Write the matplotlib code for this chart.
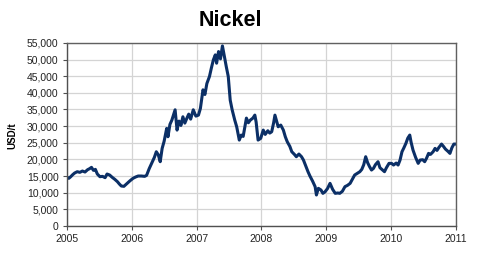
import matplotlib
matplotlib.use('Agg')
import matplotlib.pyplot as plt
from matplotlib.ticker import FuncFormatter

# decimal year and nickel price (USD/t)
years = [
    2005.00, 2005.03, 2005.06, 2005.09, 2005.12, 2005.16, 2005.20, 2005.24, 2005.28,
    2005.32, 2005.35, 2005.38, 2005.41, 2005.44, 2005.47, 2005.51, 2005.55, 2005.59,
    2005.62, 2005.66, 2005.70, 2005.74, 2005.78, 2005.81, 2005.84, 2005.88, 2005.92,
    2005.97, 2006.02, 2006.06, 2006.10, 2006.15, 2006.20, 2006.23, 2006.27, 2006.31,
    2006.35, 2006.38, 2006.41, 2006.44, 2006.47, 2006.50, 2006.54, 2006.56, 2006.59,
    2006.62, 2006.67, 2006.70, 2006.73, 2006.76, 2006.79, 2006.82, 2006.85, 2006.88,
    2006.91, 2006.95, 2006.99, 2007.03, 2007.06, 2007.10, 2007.13, 2007.16, 2007.20,
    2007.23, 2007.26, 2007.29, 2007.31, 2007.34, 2007.37, 2007.40, 2007.43, 2007.46,
    2007.49, 2007.52, 2007.55, 2007.59, 2007.62, 2007.66, 2007.69, 2007.72, 2007.75,
    2007.77, 2007.80, 2007.83, 2007.87, 2007.90, 2007.92, 2007.95, 2007.99, 2008.03,
    2008.06, 2008.10, 2008.13, 2008.16, 2008.19, 2008.21, 2008.24, 2008.26, 2008.30,
    2008.34, 2008.37, 2008.40, 2008.44, 2008.47, 2008.51, 2008.54, 2008.58, 2008.62,
    2008.65, 2008.68, 2008.72, 2008.75, 2008.79, 2008.83, 2008.85, 2008.88, 2008.92,
    2008.95, 2008.98, 2009.02, 2009.06, 2009.10, 2009.14, 2009.18, 2009.21, 2009.25,
    2009.29, 2009.33, 2009.37, 2009.40, 2009.44, 2009.48, 2009.52, 2009.55, 2009.58,
    2009.61, 2009.64, 2009.67, 2009.70, 2009.73, 2009.76, 2009.80, 2009.83, 2009.86,
    2009.90, 2009.93, 2009.97, 2010.01, 2010.04, 2010.08, 2010.11, 2010.14, 2010.17,
    2010.20, 2010.23, 2010.26, 2010.29, 2010.31, 2010.34, 2010.38, 2010.42, 2010.45,
    2010.49, 2010.52, 2010.55, 2010.58, 2010.61, 2010.65, 2010.68, 2010.71, 2010.74,
    2010.78, 2010.81, 2010.84, 2010.88, 2010.91, 2010.94, 2010.97, 2011.00,
]
prices = [
    14700, 14300, 14800, 15400, 15900, 16300, 16100, 16500, 16200,
    16900, 17200, 17600, 16700, 17000, 15600, 14800, 14900, 14500,
    15600, 15300, 14600, 14000, 13300, 12600, 12000, 11900, 12600,
    13500, 14300, 14700, 15000, 15000, 14900, 15200, 17200, 18900,
    20600, 22300, 21400, 19300, 23300, 25400, 29300, 26800, 30500,
    31800, 34900, 28800, 31500, 30200, 32800, 30900, 32300, 33600,
    32100, 34900, 33000, 33300, 35300, 40900, 39500, 42800, 44900,
    47500, 49900, 51400, 48900, 52400, 50200, 54100, 50900, 47800,
    44900, 37800, 34900, 31800, 29800, 25800, 27300, 26900, 30300,
    32400, 31000, 31800, 32400, 33300, 31200, 25800, 26300, 28800,
    27500, 28600, 27900, 28300, 31000, 33300, 31200, 29800, 30300,
    28800, 26800, 25300, 23900, 22300, 21500, 20800, 21600, 20800,
    19800, 18300, 16300, 15000, 13500, 11800, 9300, 11300, 10800,
    9800, 10200, 11200, 12800, 11000, 9800, 9900, 9800, 10400,
    11800, 12200, 12800, 13900, 15300, 15800, 16300, 17000, 18400,
    20800, 19000, 17800, 16800, 17300, 18400, 19300, 17500, 17000,
    16300, 17500, 18800, 18800, 18300, 18900, 18300, 19800, 22300,
    23500, 24800, 26400, 27300, 25200, 22800, 20600, 18800, 19800,
    19900, 19300, 20400, 21800, 21500, 22300, 23300, 22700, 23600,
    24600, 23900, 23100, 22400, 21800, 23500, 24600, 24600,
]

year_ticks = [2005, 2006, 2007, 2008, 2009, 2010, 2011]
price_ticks = list(range(0, 55001, 5000))

fig = plt.figure(figsize=(4.88, 2.6), dpi=100)
ax = fig.add_axes([0.137, 0.131, 0.797, 0.704])

ax.plot(years, prices, color='#0B2F66', lw=2.2, solid_joinstyle='round')

ax.set_xlim(2005, 2011)
ax.set_ylim(0, 55000)
ax.set_xticks(year_ticks)
ax.set_yticks(price_ticks)
ax.yaxis.set_major_formatter(FuncFormatter(lambda v, p: f'{int(v):,}'))

ax.grid(True, color='#D4D4D4', lw=0.9)
ax.set_axisbelow(True)

for side in ['top', 'right']:
    ax.spines[side].set_color('#606060')
    ax.spines[side].set_linewidth(1.0)
for side in ['left', 'bottom']:
    ax.spines[side].set_color('#505050')
    ax.spines[side].set_linewidth(1.0)

ax.tick_params(axis='both', length=3, width=0.8, color='#505050', labelsize=7.5,
               labelcolor='#222222', direction='out', pad=3)
for lab in ax.get_xticklabels() + ax.get_yticklabels():
    lab.set_family('Liberation Sans')

fig.text(0.473, 0.923, 'Nickel', ha='center', va='center', fontsize=15.5,
         fontweight='bold', family='Liberation Sans')
fig.text(0.025, 0.48, 'USD/t', ha='center', va='center', rotation=90,
         fontsize=7, fontweight='bold', family='Liberation Sans')

fig.savefig('out.png', dpi=100)
